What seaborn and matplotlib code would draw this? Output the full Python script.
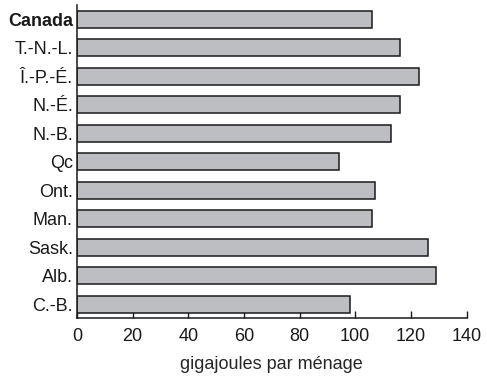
import seaborn as sns
import pandas as pd
import matplotlib.pyplot as plt

provinces = ['Canada', 'T.-N.-L.', 'Î.-P.-É.', 'N.-É.', 'N.-B.', 'Qc',
             'Ont.', 'Man.', 'Sask.', 'Alb.', 'C.-B.']
gj_per_household = [106, 116, 123, 116, 113, 94, 107, 106, 126, 129, 98]
xticks = [0, 20, 40, 60, 80, 100, 120, 140]

df = pd.DataFrame({'region': provinces, 'gj': gj_per_household})

sns.set_style('white')
plt.rcParams['font.family'] = ['Liberation Sans', 'DejaVu Sans']
plt.rcParams['text.color'] = '#1a1a1a'
plt.rcParams['xtick.labelcolor'] = '#1a1a1a'
plt.rcParams['ytick.labelcolor'] = '#1a1a1a'

fig = plt.figure(figsize=(4.87, 3.8), dpi=100)
ax = fig.add_axes([0.158, 0.162, 0.8, 0.825])

sns.barplot(data=df, x='gj', y='region', orient='h', color='#bdbec2',
            edgecolor='#1a1a1a', linewidth=1.1, width=0.6, saturation=1, ax=ax)

ax.set_xlim(0, 140)
ax.set_xticks(xticks)
ax.set_xlabel('gigajoules par ménage', fontsize=13, labelpad=8)
ax.set_ylabel('')
ax.tick_params(axis='x', direction='in', length=5, width=1, pad=7,
               labelsize=13, color='#1a1a1a', bottom=True)
ax.tick_params(axis='y', length=0, pad=3, labelsize=13)
for lbl in ax.get_yticklabels():
    if lbl.get_text() == 'Canada':
        lbl.set_fontweight('bold')

sns.despine(ax=ax, top=True, right=True)
for side in ['left', 'bottom']:
    ax.spines[side].set_color('#1a1a1a')
    ax.spines[side].set_linewidth(1.1)

fig.savefig('out.png', dpi=100)
